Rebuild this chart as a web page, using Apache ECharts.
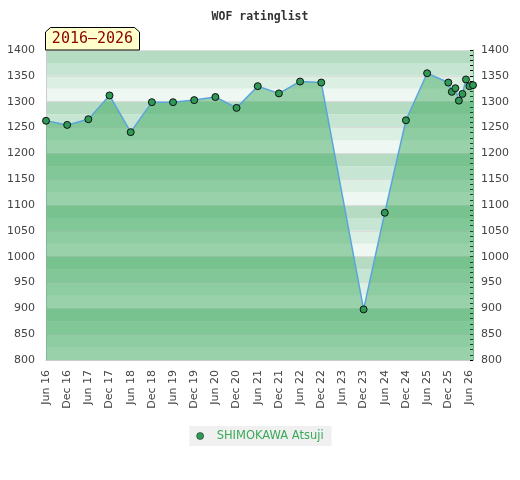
<!DOCTYPE html>
<html><head><meta charset="utf-8">
<script src="https://cdn.jsdelivr.net/npm/echarts@6/dist/echarts.min.js"></script>
<style>html,body{margin:0;padding:0;background:#fff}#c{width:520px;height:480px}</style>
</head><body><div id="c"></div>
<script>
const titleText = 'WOF ratinglist';
const playerName = 'SHIMOKAWA Atsuji';
const dates = ['2016-06','2016-12','2017-06','2017-12','2018-06','2018-12','2019-06','2019-12','2020-06','2020-12','2021-06','2021-12','2022-06','2022-12','2023-12','2024-06','2024-12','2025-06','2025-12','2026-01','2026-02','2026-03','2026-04','2026-05','2026-06','2026-07'];
const ratings = [1263,1255,1266,1312,1241,1299,1299,1303,1309,1288,1330,1316,1339,1337,898,1085,1264,1355,1337,1319,1326,1302,1315,1343,1330,1332];
const monthNames = ['Jan','Feb','Mar','Apr','May','Jun','Jul','Aug','Sep','Oct','Nov','Dec'];
const yMin = 800, yMax = 1400;

const baseYear = 2016, baseMonth = 6;
function toIdx(s){ const p = s.split('-').map(Number); return (p[0]-baseYear)*12 + (p[1]-baseMonth); }
function idxLabel(v){
  if (v % 6 !== 0) return '';
  const total = (baseMonth-1) + v;
  const y = baseYear + Math.floor(total/12);
  return monthNames[total%12] + ' ' + String(y).slice(2);
}
const seriesData = dates.map((d,i)=>[toIdx(d), ratings[i]]);
const xMax = toIdx(dates[dates.length-1]);
const periodText = dates[0].slice(0,4) + '\u2013' + dates[dates.length-1].slice(0,4);

const chart = echarts.init(document.getElementById('c'));
chart.setOption({
  animation: false,
  backgroundColor: '#fff',
  title: {
    text: titleText, left: 'center', top: 6,
    textStyle: {fontFamily: 'DejaVu Sans Mono', fontSize: 11.5, fontWeight: 'bold', color: '#333'}
  },
  grid: {left: 46, right: 47, top: 50, bottom: 120},
  xAxis: {
    type: 'value', min: 0, max: xMax, interval: 6,
    axisLine: {show: true, lineStyle: {color: '#ccc'}},
    axisTick: {show: false},
    splitLine: {show: false},
    axisLabel: {rotate: 90, fontFamily: 'DejaVu Sans', fontSize: 11, color: '#444', margin: 10,
      showMaxLabel: false, formatter: idxLabel}
  },
  yAxis: [{
    type: 'value', min: yMin, max: yMax, interval: 25, position: 'left',
    axisLine: {show: true, lineStyle: {color: '#ccc'}},
    axisTick: {show: false},
    axisLabel: {fontFamily: 'DejaVu Sans', fontSize: 11, color: '#444', margin: 11,
      formatter: v => (v % 50 === 0 ? String(v) : '')},
    splitLine: {show: true, lineStyle: {color: ['#dcdcdc', 'rgba(0,0,0,0)'], width: 1}},
    splitArea: {show: true, areaStyle: {color: ['#eef7f1', '#dcefe3', '#c6e5d2', '#b5dcc3']}}
  }, {
    type: 'value', min: yMin, max: yMax, interval: 50, position: 'right',
    axisLine: {show: true, lineStyle: {color: '#6dba85'}},
    axisTick: {show: true, inside: true, length: 3, lineStyle: {color: '#000'}},
    minorTick: {show: true, splitNumber: 5, length: 3, lineStyle: {color: '#000'}},
    axisLabel: {fontFamily: 'DejaVu Sans', fontSize: 11, color: '#444', margin: 8,
      formatter: v => String(v)},
    splitLine: {show: false}
  }],
  legend: {
    bottom: 34, left: 'center',
    backgroundColor: '#f0f0f0',
    padding: [4, 8, 4, 7],
    icon: 'circle', itemWidth: 7, itemHeight: 7,
    itemStyle: {borderWidth: 0.5},
    textStyle: {fontFamily: 'DejaVu Sans', fontSize: 11.5, color: '#3aaa5a', padding: [0, 0, 0, 8]},
    data: [playerName]
  },
  graphic: [{
    type: 'polygon', z: 100,
    shape: {points: [[45.5,50],[45.5,32],[50.5,27.5],[134.5,27.5],[139.5,32],[139.5,50]]},
    style: {fill: '#ffffcc', stroke: '#000', lineWidth: 1}
  }, {
    type: 'text', z: 101, x: 92.5, y: 39,
    style: {text: periodText, fill: '#8b0000', font: '15px "DejaVu Sans Mono"', align: 'center', verticalAlign: 'middle'}
  }],
  series: [{
    type: 'line', name: playerName, data: seriesData,
    symbol: 'circle', symbolSize: 7, showAllSymbol: true,
    lineStyle: {color: '#5aa5dc', width: 1.5},
    itemStyle: {color: '#2e9a55', borderColor: '#111', borderWidth: 1},
    areaStyle: {color: 'rgb(40,159,77)', opacity: 0.43, origin: 'start'}
  }]
});
</script></body></html>
